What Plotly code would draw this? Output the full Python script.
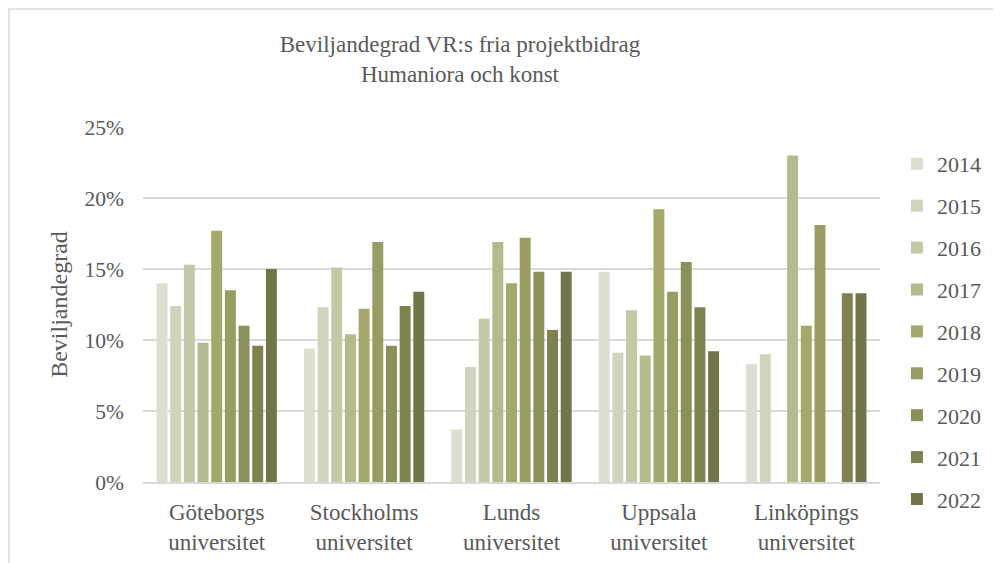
import plotly.graph_objects as go

# Beviljandegrad per lärosäte och år (andel, 0-1)
universities = ["Göteborgs<br>universitet", "Stockholms<br>universitet", "Lunds<br>universitet",
                "Uppsala<br>universitet", "Linköpings<br>universitet"]
years = ["2014", "2015", "2016", "2017", "2018", "2019", "2020", "2021", "2022"]

rate_2014 = [0.140, 0.094, 0.037, 0.148, 0.083]
rate_2015 = [0.124, 0.123, 0.081, 0.091, 0.090]
rate_2016 = [0.153, 0.151, 0.115, 0.121, None]
rate_2017 = [0.098, 0.104, 0.169, 0.089, 0.230]
rate_2018 = [0.177, 0.122, 0.140, 0.192, 0.110]
rate_2019 = [0.135, 0.169, 0.172, 0.134, 0.181]
rate_2020 = [0.110, 0.096, 0.148, 0.155, None]
rate_2021 = [0.096, 0.124, 0.107, 0.123, 0.133]
rate_2022 = [0.150, 0.134, 0.148, 0.092, 0.133]

rates = [rate_2014, rate_2015, rate_2016, rate_2017, rate_2018,
         rate_2019, rate_2020, rate_2021, rate_2022]

colors = ["#DDDED0", "#D1D3BD", "#C4C8A7", "#B5BA8C", "#A4A96B",
          "#999D61", "#8B8F59", "#7F824F", "#727548"]

FONT = "Liberation Serif, Times New Roman, serif"
GREY = "#595959"

# the page body has an 8px margin, so the figure is sized to fit the window
W, H = 993, 555
L, R, T, B = 135, 121, 119, 81
plot_w, plot_h = W - L - R, H - T - B

fig = go.Figure()
for year, vals, col in zip(years, rates, colors):
    fig.add_trace(go.Bar(
        name=year, x=universities, y=vals,
        marker=dict(color=col, line=dict(width=0)),
        legendgroup=year,
    ))

fig.update_layout(
    width=W, height=H,
    barmode="group", bargap=0.165, bargroupgap=0.2,
    paper_bgcolor="white", plot_bgcolor="white",
    margin=dict(l=L, r=R, t=T, b=B, autoexpand=False),
    font=dict(family=FONT, color=GREY, size=21),
    title=dict(
        text="Beviljandegrad VR:s fria projektbidrag<br>Humaniora och konst",
        x=452 / W, xanchor="center", xref="container",
        y=1 - 44 / H, yanchor="top",
        font=dict(family=FONT, size=23, color=GREY),
    ),
    legend=dict(
        x=1.023, xanchor="left", y=0.955, yanchor="top",
        font=dict(family=FONT, size=22, color=GREY),
        tracegroupgap=10.3, itemwidth=30, maxheight=460,
    ),
    showlegend=True,
)

fig.update_yaxes(
    range=[0, 0.25], dtick=0.05, tickformat=".0%",
    showgrid=True, gridcolor="#D9D9D9", gridwidth=1.5,
    zeroline=False, showline=False,
    ticks="", ticklabelstandoff=18,
    tickfont=dict(family=FONT, size=21.5, color=GREY),
    title=dict(text="Beviljandegrad", font=dict(family=FONT, size=24, color=GREY), standoff=10),
)
fig.update_xaxes(
    showline=True, linecolor="#D9D9D9", linewidth=1.5,
    ticks="", showgrid=False, ticklabelstandoff=9,
    tickfont=dict(family=FONT, size=23, color=GREY),
)

# chart-area border
fig.add_shape(type="rect", xref="paper", yref="paper",
              x0=(1 - L) / plot_w, x1=1.2, y0=-0.4, y1=(plot_h + T - 1) / plot_h,
              line=dict(color="#D9D9D9", width=1.5), fillcolor="rgba(0,0,0,0)",
              layer="below")

fig.write_html("out.html")
